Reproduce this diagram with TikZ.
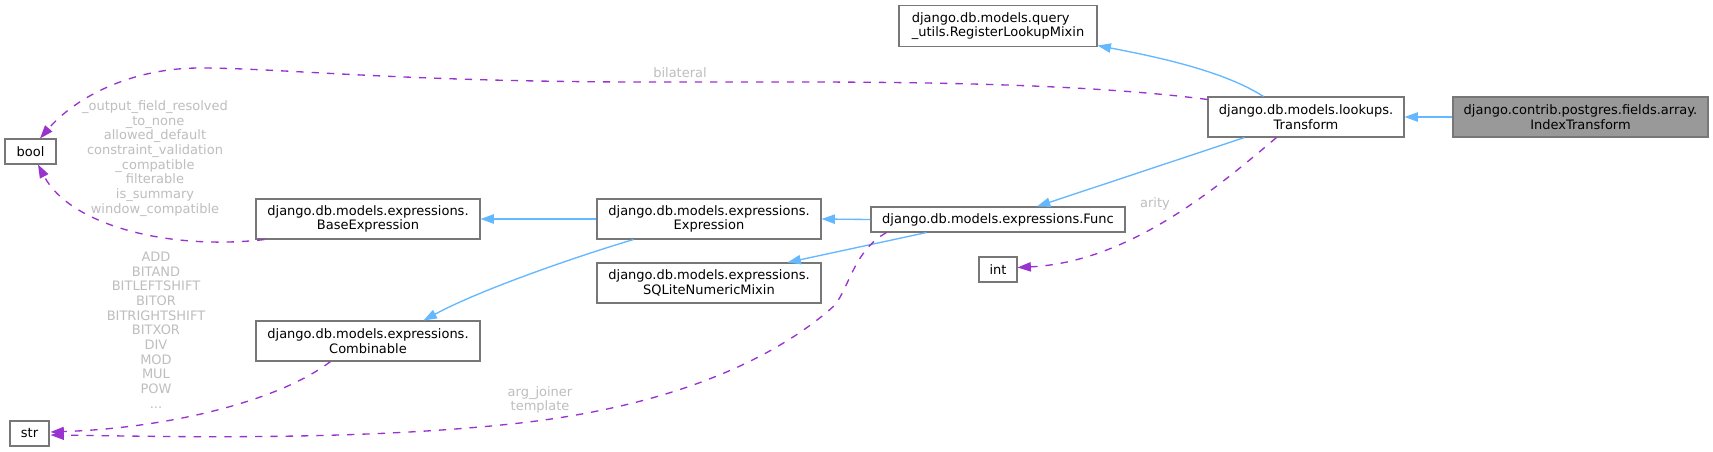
\documentclass[tikz,border=0pt]{standalone}
\usepackage{fontspec}
\setmainfont{DejaVu Sans}
\usetikzlibrary{arrows.meta,calc}
\definecolor{edgeblue}{HTML}{63B8FF}
\definecolor{edgepurple}{HTML}{9A32CD}
\definecolor{boxborder}{HTML}{777777}
\definecolor{boxfill}{HTML}{999999}
\definecolor{lblgrey}{HTML}{BEBEBE}
\begin{document}
\begin{tikzpicture}[x=0.75pt,y=-0.75pt,
  bw/.style={minimum width=#1*0.75pt},
  bh/.style={minimum height=#1*0.75pt},
  cls/.style={draw=boxborder, line width=0.8pt, fill=white, inner sep=0pt, align=center,
    font=\fontsize{9.75}{11}\selectfont},
  lbl/.style={text=lblgrey, inner sep=0pt, align=center, font=\fontsize{9.75}{11}\selectfont},
  inh/.style={color=edgeblue, line width=1pt, -{Triangle[length=10pt,width=7pt]}},
  use/.style={color=edgepurple, line width=1pt, dash pattern=on 5.5pt off 6pt,
    -{Triangle[length=10pt,width=7pt]}}]
\fill[white] (0,0) rectangle (1713,451);
\useasboundingbox (0,0) rectangle (1713,451);
% nodes
\node[cls, bw=255, bh=40, fill=boxfill] (IT) at (1580.5,117) {django.contrib.postgres.fields.array.\\IndexTransform};
\node[cls, bw=196, bh=40] (T) at (1306,117) {django.db.models.lookups.\\Transform};
\node[cls, bw=198, bh=41, align=left] (RLM) at (998,26) {django.db.models.query\\\_utils.RegisterLookupMixin};
\node[cls, bw=51, bh=25] (bool) at (30.5,151.5) {bool};
\node[cls, bw=39, bh=25] (str) at (29.5,433.5) {str};
\node[cls, bw=224, bh=40] (BE) at (368,219) {django.db.models.expressions.\\BaseExpression};
\node[cls, bw=224, bh=40] (C) at (368,341) {django.db.models.expressions.\\Combinable};
\node[cls, bw=224, bh=40] (E) at (709,219) {django.db.models.expressions.\\Expression};
\node[cls, bw=224, bh=40] (S) at (709,283) {django.db.models.expressions.\\SQLiteNumericMixin};
\node[cls, bw=254, bh=25] (F) at (998,219.5) {django.db.models.expressions.Func};
\node[cls, bw=38, bh=25] (I) at (998,269.5) {int};
% edge labels
\node[lbl] (lbil) at (680,73) {bilateral};
\node[lbl] (lbool) at (155,158.5) {\_output\_field\_resolved\\\_to\_none\\allowed\_default\\constraint\_validation\\\_compatible\\filterable\\is\_summary\\window\_compatible};
\node[lbl] (lstr) at (156,330) {ADD\\BITAND\\BITLEFTSHIFT\\BITOR\\BITRIGHTSHIFT\\BITXOR\\DIV\\MOD\\MUL\\POW\\...};
\node[lbl] (larg) at (540,400) {arg\_joiner\\template};
\node[lbl] (lar) at (1155,204) {arity};
% inheritance edges
\draw[inh] (IT.west) -- (T.east);
\draw[inh] ($(T.north west)+(56,0)$) .. controls +(-39,-25) and +(63,12) .. ($(RLM.south east)+(0,-1.5)$);
\draw[inh] ($(T.south west)+(37,0)$) -- ($(F.north)+(39,0)$);
\draw[inh] (F.west) -- (E.east);
\draw[inh] ($(F.south west)+(56,0)$) -- ($(S.north east)+(-34,0)$);
\draw[inh] (E.west) -- (BE.east);
\draw[inh] ($(E.south west)+(37,0)$) .. controls +(-54,16) and +(57,-31) .. ($(C.north east)+(-57,0)$);
% usage edges
\draw[use] ($(T.north west)+(0,3)$) .. controls +(-108,-14) and +(150,0) .. (800,82) -- (650,82)
  .. controls (400,82) and (280,68) .. (200,68) .. controls (130,68) and (75,98) .. ($(bool.north)+(9.5,0)$);
\draw[use] ($(BE.south west)+(9,0)$) .. controls +(-95,11) and +(32,61) .. ($(bool.south)+(7.5,0)$);
\draw[use] ($(C.south west)+(75,0)$) .. controls +(-51,39) and +(120,-4) .. ($(str.east)+(1,-1.5)$);
\draw[use] ($(F.south west)+(16,0)$) .. controls +(-32,18) and +(15,-20) .. (835,305)
  .. controls (780,355) and (680,405) .. (520,423) .. controls (350,442) and (150,436) .. ($(str.east)+(1,1.5)$);
\draw[use] ($(T.south west)+(69,0)$) .. controls +(-57,48) and +(113,-5.5) .. ($(I.east)+(0,-2)$);
\end{tikzpicture}
\end{document}
